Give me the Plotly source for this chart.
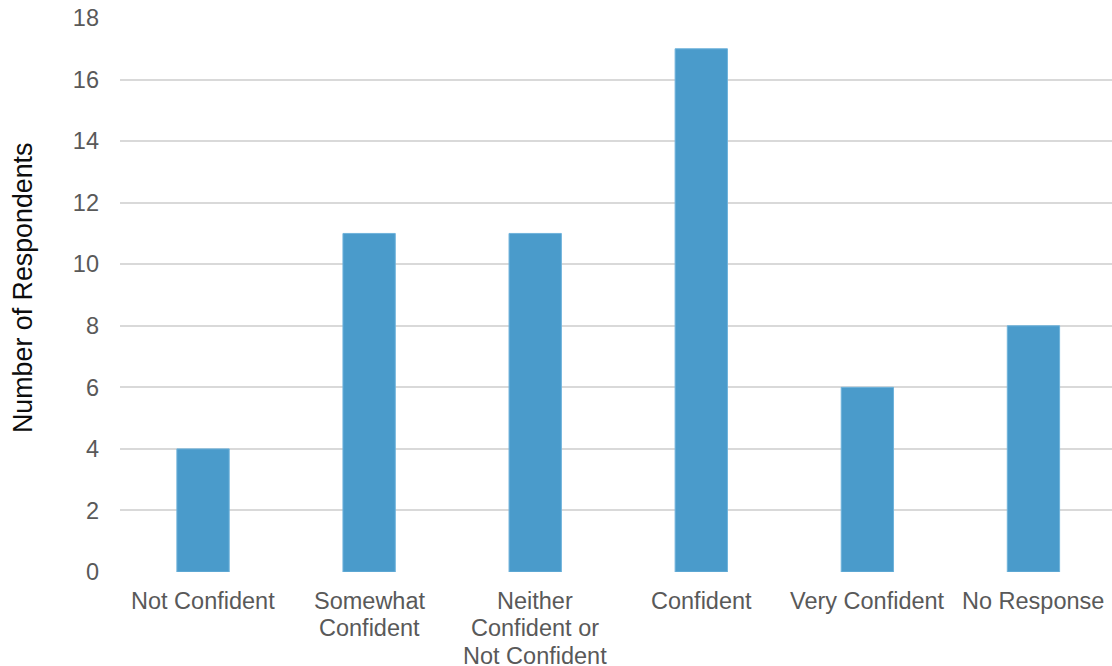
import plotly.graph_objects as go

categories = ["Not Confident", "Somewhat Confident", "Neither Confident or Not Confident",
              "Confident", "Very Confident", "No Response"]
label_lines = [["Not Confident"], ["Somewhat", "Confident"], ["Neither", "Confident or", "Not Confident"],
               ["Confident"], ["Very Confident"], ["No Response"]]
values = [4, 11, 11, 17, 6, 8]
y_ticks = [0, 2, 4, 6, 8, 10, 12, 14, 16, 18]
y_title = "Number of Respondents"

FONT = "Liberation Sans, Arial, sans-serif"
FS = 23.5

fig = go.Figure()
fig.add_trace(go.Bar(
    x=categories, y=values,
    marker=dict(color="#4A9BCB", line=dict(color="#6FB3DB", width=1)),
    width=0.315,
))

annotations = []
for cat, lines in zip(categories, label_lines):
    for i, line in enumerate(lines):
        annotations.append(dict(
            x=cat, xref="x", y=0, yref="paper", yanchor="middle", xanchor="center",
            yshift=-29 - 27.3 * i, text=line, showarrow=False,
            font=dict(family=FONT, size=FS, color="#595959"),
        ))
annotations.append(dict(
    x=-97 / 992, xref="paper", y=(572 - 288) / 554, yref="paper",
    xanchor="center", yanchor="middle", textangle=-90, text=y_title, showarrow=False,
    font=dict(family=FONT, size=26.8, color="#0d0d0d"),
))

fig.update_layout(
    width=1112, height=666,
    margin=dict(l=120, r=0, t=18, b=94),
    paper_bgcolor="white", plot_bgcolor="white",
    showlegend=False,
    font=dict(family=FONT, size=FS, color="#595959"),
    annotations=annotations,
    xaxis=dict(range=[-0.5, 5.473], showticklabels=False, showgrid=False,
               zeroline=False, showline=False, ticks=""),
    yaxis=dict(range=[0, 18], tickvals=y_ticks, showgrid=True, gridcolor="#D9D9D9",
               gridwidth=1.5, zeroline=False, showline=False, ticks="",
               ticklabelstandoff=20,
               tickfont=dict(family=FONT, size=FS, color="#595959")),
)
fig.write_html("out.html")
